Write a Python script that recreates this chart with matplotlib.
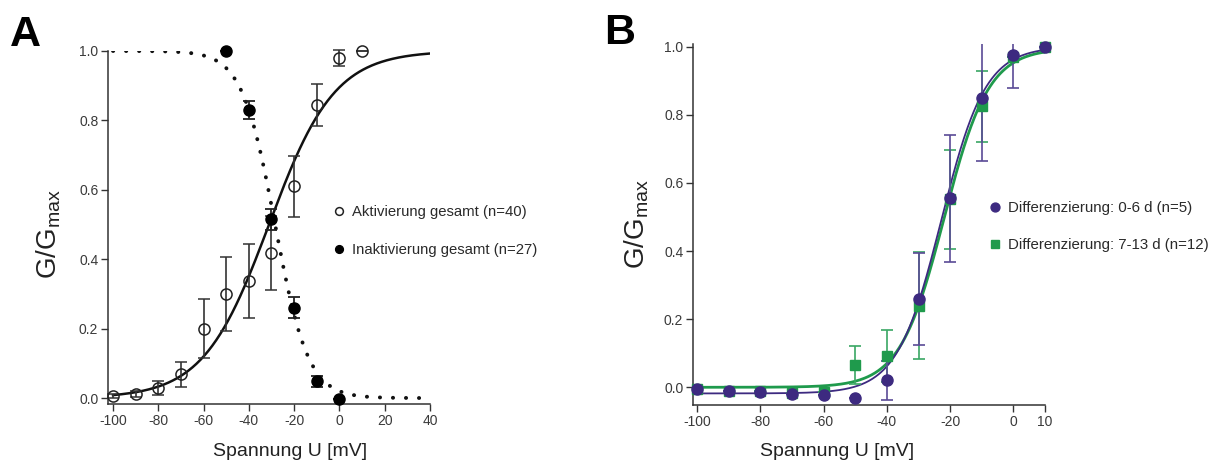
import numpy as np
import matplotlib
matplotlib.use("Agg")
import matplotlib.pyplot as plt
from matplotlib.ticker import FormatStrFormatter

plt.rcParams['font.family'] = ['Liberation Sans', 'DejaVu Sans']
plt.rcParams['mathtext.fontset'] = 'custom'
plt.rcParams['mathtext.rm'] = 'Liberation Sans'
plt.rcParams['mathtext.it'] = 'Liberation Sans'
plt.rcParams['axes.unicode_minus'] = False

# --- Panel A: Aktivierung / Inaktivierung ---
spannung_akt = [-100, -90, -80, -70, -60, -50, -40, -30, -20, -10, 0, 10]
akt_mittel = [0.005, 0.012, 0.028, 0.068, 0.20, 0.30, 0.337, 0.417, 0.61, 0.845, 0.98, 1.0]
akt_fehler = [0.006, 0.008, 0.02, 0.035, 0.085, 0.107, 0.107, 0.107, 0.088, 0.06, 0.023, 0.0]

spannung_inakt = [-50, -40, -30, -20, -10, 0]
inakt_mittel = [1.0, 0.83, 0.515, 0.26, 0.048, -0.003]
inakt_fehler = [0.0, 0.027, 0.03, 0.03, 0.017, 0.0]

# Boltzmann-Fits (V_halb, k)
fit_akt = (-31.1, 14.5)
fit_inakt = (-28.4, 7.3)

# --- Panel B: Differenzierung ---
spannung_b = [-100, -90, -80, -70, -60, -50, -40, -30, -20, -10, 0, 10]
diff_06 = [-0.005, -0.012, -0.015, -0.02, -0.022, -0.03, 0.02, 0.26, 0.555, 0.85, 0.975, 1.0]
diff_06_fehler = [0, 0, 0, 0, 0, 0, 0.058, 0.135, 0.187, 0.185, 0.095, 0]
diff_713 = [-0.004, -0.01, -0.012, -0.017, -0.013, 0.065, 0.092, 0.24, 0.552, 0.825, 0.97, 1.0]
diff_713_fehler = [0, 0, 0, 0, 0, 0.055, 0.075, 0.156, 0.145, 0.104, 0, 0]

# Boltzmann-Fits (A0, A1, V_halb, k)
fit_06 = (-0.018, 1.0, -22.8, 6.98)
fit_713 = (0.0, 0.995, -21.9, 7.02)

lila = '#3d2a80'
gruen = '#1f9a4c'
achsfarbe = '#333333'


def boltzmann(v, a0, a1, vh, k):
    return a0 + (a1 - a0) / (1 + np.exp((vh - v) / k))


def achsen_stil(ax):
    for s in ['top', 'right']:
        ax.spines[s].set_visible(False)
    for s in ['left', 'bottom']:
        ax.spines[s].set_color(achsfarbe)
        ax.spines[s].set_linewidth(1.1)
    ax.tick_params(direction='out', length=5, width=1, color=achsfarbe,
                   labelsize=10, labelcolor='#3a3a3a', pad=2)
    ax.yaxis.set_major_formatter(FormatStrFormatter('%.1f'))
    ax.set_yticks([0.0, 0.2, 0.4, 0.6, 0.8, 1.0])


fig = plt.figure(figsize=(12.18, 4.68), dpi=100)

# Panel A
axA = fig.add_axes([0.0887, 0.1368, 0.2643, 0.7543])
achsen_stil(axA)
axA.set_xlim(-102.2, 40)
axA.set_ylim(-0.017, 1.0)
axA.set_xticks(np.arange(-100, 41, 20))

v = np.linspace(-100, 40, 400)
axA.plot(v, boltzmann(v, 0, 1, *fit_akt), color='#111111', lw=1.8, zorder=2)
v2 = np.linspace(-100, 37, 400)
axA.plot(v2, boltzmann(v2, 1, 0, *fit_inakt), color='#111111', lw=2.8,
         linestyle=(0, (0.05, 3.3)), dash_capstyle='round', zorder=2)

axA.errorbar(spannung_akt, akt_mittel, yerr=akt_fehler, fmt='o', mfc='none',
             mec='#222222', mew=1.1, ms=8, ecolor='#333333', elinewidth=1.2,
             capsize=4, capthick=1.2, clip_on=False, zorder=3,
             label='Aktivierung gesamt (n=40)')
axA.errorbar(spannung_inakt, inakt_mittel, yerr=inakt_fehler, fmt='o', mfc='black',
             mec='black', ms=8, ecolor='#222222', elinewidth=1.3,
             capsize=4, capthick=1.3, clip_on=False, zorder=4,
             label='Inaktivierung gesamt (n=27)')

axA.set_xlabel('Spannung U [mV]', fontsize=14, color='#222222')
axA.xaxis.set_label_coords(0.565, -0.11)
axA.set_ylabel(r'G/G$_{\mathrm{max}}$', fontsize=20, color='#222222')
axA.yaxis.set_label_coords(-0.14, 0.48)

hA, lA = axA.get_legend_handles_labels()
hA = [h[0] for h in hA]
axA.legend(hA, lA, loc='upper left', bbox_to_anchor=(333 / 1218, 1 - 205 / 468),
           bbox_transform=fig.transFigure, frameon=False, fontsize=10.7,
           handlelength=0.8, handletextpad=0.45, labelspacing=1.6,
           borderpad=0, borderaxespad=0, markerscale=0.7,
           labelcolor='#2a2a2a')

fig.text(10 / 1218, 1 - 46 / 468, 'A', fontsize=31, fontweight='bold')

# Panel B
axB = fig.add_axes([0.569, 0.1346, 0.289, 0.7714])
achsen_stil(axB)
axB.set_xlim(-101.3, 10)
axB.set_ylim(-0.052, 1.008)
axB.set_xticks([-100, -80, -60, -40, -20, 0, 10])

vb = np.linspace(-100, 10, 400)
axB.plot(vb, boltzmann(vb, *fit_713), color=gruen, lw=2.0, zorder=2)
axB.plot(vb, boltzmann(vb, *fit_06), color=lila, lw=1.3, zorder=2)

# Fehlerbalken (an der Achse abgeschnitten), Marker darüber
axB.errorbar(spannung_b, diff_713, yerr=diff_713_fehler, fmt='none',
             ecolor='#3aa764', elinewidth=1.2, capsize=4, capthick=1.2, zorder=3)
axB.errorbar(spannung_b, diff_06, yerr=diff_06_fehler, fmt='none',
             ecolor='#5a4a96', elinewidth=1.2, capsize=4, capthick=1.2, zorder=3)
l713, = axB.plot(spannung_b, diff_713, 's', color=gruen, ms=7, clip_on=False,
                 zorder=4, label='Differenzierung: 7-13 d (n=12)')
l06, = axB.plot(spannung_b, diff_06, 'o', color=lila, ms=8, clip_on=False,
                zorder=5, label='Differenzierung: 0-6 d (n=5)')

axB.set_xlabel('Spannung U [mV]', fontsize=14, color='#222222')
axB.xaxis.set_label_coords(0.409, -0.105)
axB.set_ylabel(r'G/G$_{\mathrm{max}}$', fontsize=20, color='#222222')
axB.yaxis.set_label_coords(-0.12, 0.5)

axB.legend([l06, l713], [l06.get_label(), l713.get_label()], loc='upper left',
           bbox_to_anchor=(989 / 1218, 1 - 201 / 468),
           bbox_transform=fig.transFigure, frameon=False, fontsize=10.8,
           handlelength=0.8, handletextpad=0.45, labelspacing=1.55,
           borderpad=0, borderaxespad=0, markerscale=0.8,
           labelcolor='#2a2a2a')

fig.text(604 / 1218, 1 - 44 / 468, 'B', fontsize=31, fontweight='bold')

fig.savefig('out.png', dpi=100)
